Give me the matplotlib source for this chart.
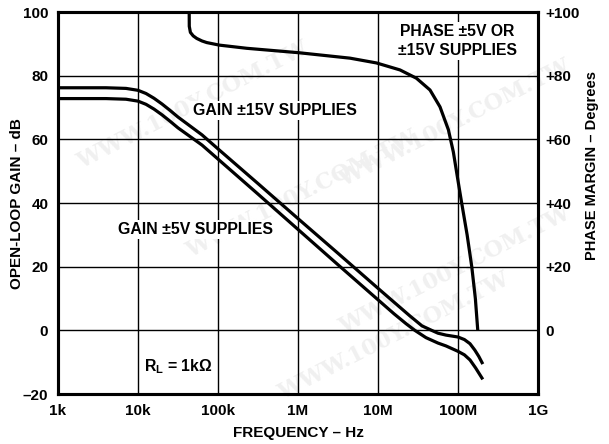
import numpy as np
import matplotlib
matplotlib.use("Agg")
import matplotlib.pyplot as plt

# Open-loop gain / phase margin vs frequency
# frequencies kept as log10(Hz)

gain15_logf = [3.00, 3.60, 3.85, 4.00, 4.10, 4.20, 4.30, 4.40, 4.50, 4.80, 5.00,
               5.50, 6.00, 6.50, 7.00, 7.40, 7.55, 7.67, 7.75, 7.85, 8.00, 8.08,
               8.15, 8.21, 8.26, 8.31]
gain15_db = [76.2, 76.2, 76.0, 75.4, 74.4, 72.9, 71.1, 69.1, 67.0, 61.4, 57.0,
             46.1, 35.1, 24.2, 13.2, 4.5, 1.4, 0.0, -0.9, -1.5, -2.1, -2.9,
             -4.2, -6.2, -8.2, -10.6]

gain5_logf = [3.00, 3.60, 3.85, 4.00, 4.10, 4.20, 4.30, 4.40, 4.50, 4.80, 5.00,
              5.50, 6.00, 6.50, 7.00, 7.20, 7.35, 7.46, 7.60, 7.75, 7.85, 8.00,
              8.08, 8.15, 8.22, 8.31]
gain5_db = [72.8, 72.8, 72.6, 72.0, 71.0, 69.5, 67.7, 65.7, 63.6, 58.2, 53.8,
            42.8, 31.7, 20.6, 9.6, 5.2, 2.1, 0.0, -2.3, -4.0, -4.9, -6.6,
            -7.7, -9.3, -11.8, -15.4]

phase_logf = [4.640, 4.641, 4.655, 4.69, 4.734, 4.80, 4.859, 5.016, 5.359, 6.013,
              6.65, 6.98, 7.275, 7.48, 7.65, 7.775, 7.88, 7.942, 8.00, 8.046,
              8.114, 8.172, 8.217, 8.247]
phase_deg = [100.0, 95.5, 93.6, 92.5, 91.7, 90.9, 90.4, 89.6, 88.6, 87.2,
             85.5, 84.0, 81.8, 79.2, 75.5, 70.2, 63.0, 56.0, 47.0, 40.0,
             30.0, 20.0, 10.0, 0.0]

x_ticks = [1e3, 1e4, 1e5, 1e6, 1e7, 1e8, 1e9]
x_labels = ["1k", "10k", "100k", "1M", "10M", "100M", "1G"]
left_ticks = [-20, 0, 20, 40, 60, 80, 100]
left_labels = ["\u201320", "0", "20", "40", "60", "80", "100"]
right_ticks = [0, 20, 40, 60, 80, 100]
right_labels = ["0", "+20", "+40", "+60", "+80", "+100"]

plt.rcParams['font.family'] = ['Liberation Sans', 'DejaVu Sans']
plt.rcParams['font.weight'] = 'bold'
plt.rcParams['axes.labelweight'] = 'bold'
plt.rcParams['mathtext.fontset'] = 'custom'
plt.rcParams['mathtext.bf'] = 'Liberation Sans:bold'
plt.rcParams['mathtext.rm'] = 'Liberation Sans:bold'

fig = plt.figure(figsize=(6.09, 4.44), dpi=100)
ax = fig.add_axes([58 / 609, 1 - 394 / 444, 480 / 609, 382 / 444])
ax.patch.set_visible(False)

# faint watermark, drawn under the axes
wm = "WWW.100Y.COM.TW"
for (wx, wy) in [(0.12, 0.62), (0.30, 0.42), (0.55, 0.58), (0.45, 0.10), (0.55, 0.25)]:
    fig.text(wx, wy, wm, fontsize=16, family='DejaVu Serif', weight='bold',
             color='#f0f0f0', rotation=27, zorder=-5)

ax.set_xscale('log')
ax.set_xlim(1e3, 1e9)
ax.set_ylim(-20, 100)

ax.plot(10 ** np.array(gain15_logf), gain15_db, color='black', lw=2.3, zorder=3,
        solid_capstyle='butt')
ax.plot(10 ** np.array(gain5_logf), gain5_db, color='black', lw=2.3, zorder=3,
        solid_capstyle='butt')

ax.set_xticks(x_ticks)
ax.set_xticklabels(x_labels)
ax.minorticks_off()
ax.set_yticks(left_ticks)
ax.set_yticklabels(left_labels)
ax.grid(True, color='black', lw=1.0)
ax.tick_params(length=0, labelsize=11, pad=7)
for sp in ax.spines.values():
    sp.set_linewidth(2.2)

ax2 = ax.twinx()
ax2.set_ylim(-20, 100)
ax2.plot(10 ** np.array(phase_logf), phase_deg, color='black', lw=2.3, zorder=3,
         solid_capstyle='butt')
ax2.set_yticks(right_ticks)
ax2.set_yticklabels(right_labels)
ax2.tick_params(length=0, labelsize=11, pad=5)
for sp in ax2.spines.values():
    sp.set_linewidth(2.2)

box = dict(facecolor='white', edgecolor='none', pad=1.5)
ax2.text(10 ** 5.71, 69.0, "GAIN \u00b115V SUPPLIES", ha='center', va='center',
         fontsize=11.4, bbox=box, zorder=4)
ax2.text(10 ** 4.72, 31.8, "GAIN \u00b15V SUPPLIES", ha='center', va='center',
         fontsize=11.4, bbox=box, zorder=4)
ax2.text(10 ** 7.99, 90.9, "PHASE \u00b15V OR\n\u00b115V SUPPLIES", ha='center',
         va='center', fontsize=11.3, linespacing=1.3, bbox=box, zorder=4)
ax2.text(10 ** 4.5, -11.5, "$\\mathbf{R_L}$ = 1k\u03a9", ha='center', va='center',
         fontsize=11.4, bbox=box, zorder=4)

fig.text(298 / 609, 1 - 433 / 444, "FREQUENCY \u2013 Hz", ha='center', va='center',
         fontsize=11, weight='bold')
fig.text(17 / 609, 1 - 204 / 444, "OPEN-LOOP GAIN \u2013 dB", rotation=90,
         ha='center', va='center', fontsize=11, weight='bold')
fig.text(592 / 609, 1 - 166 / 444, "PHASE MARGIN \u2013 Degrees", rotation=90,
         ha='center', va='center', fontsize=10.5, weight='bold')

fig.savefig("out.png", dpi=100)
